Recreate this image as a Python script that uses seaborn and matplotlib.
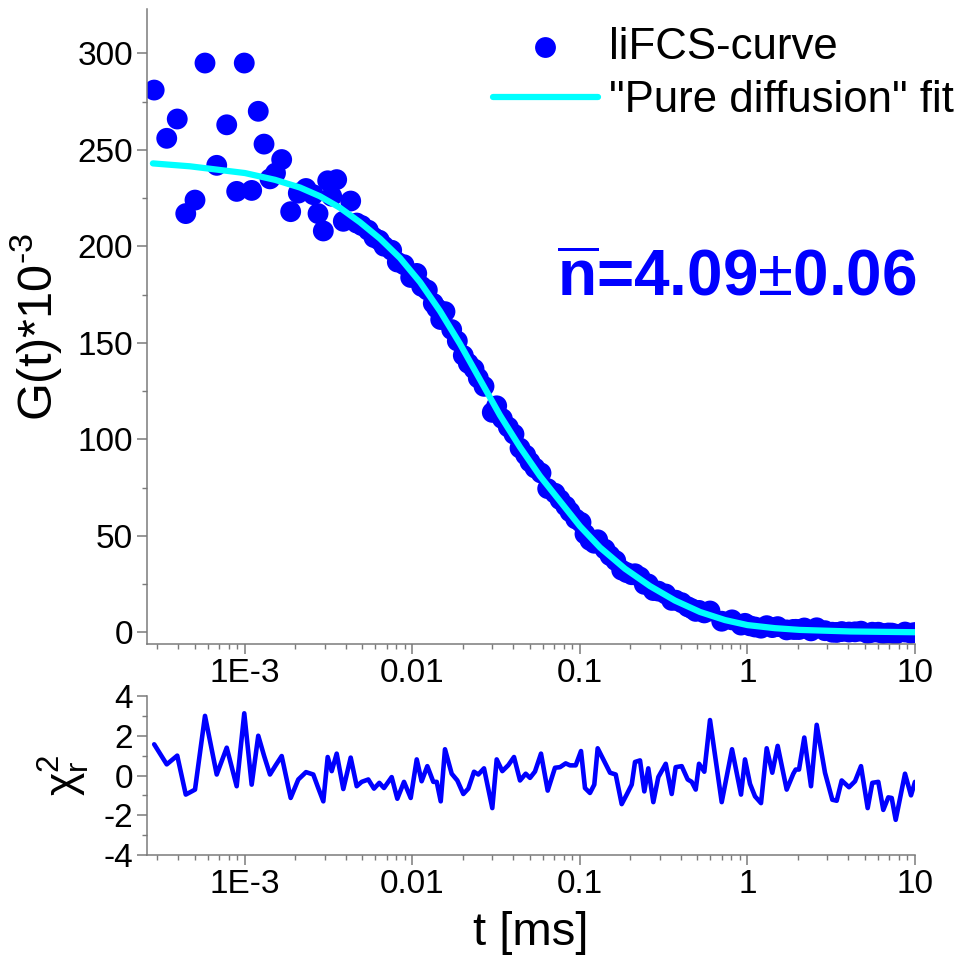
import matplotlib
matplotlib.use("Agg")
import matplotlib.pyplot as plt
import seaborn as sns
import pandas as pd
from matplotlib.ticker import FixedLocator, FixedFormatter, MultipleLocator, LogLocator, NullFormatter

# ---------------- data ----------------
t_ms = [0.000287, 0.000341, 0.000394, 0.000443, 0.000503, 0.000577, 0.000678, 0.000778, 0.000892, 0.000990,
        0.001096, 0.001200, 0.001299, 0.001410, 0.001521, 0.001656, 0.001874, 0.002081, 0.002313, 0.002557,
        0.002729, 0.002935, 0.003117, 0.003294, 0.003527, 0.003863, 0.004276, 0.004645, 0.004975, 0.005446,
        0.005890, 0.006337, 0.006758, 0.007511, 0.008118, 0.008898, 0.009757, 0.01060, 0.01134, 0.01226,
        0.01331, 0.01395, 0.01474, 0.01563, 0.01714, 0.01852, 0.02011, 0.02154, 0.02330, 0.02471,
        0.02673, 0.02995, 0.03182, 0.03437, 0.03733, 0.04036, 0.04384, 0.04741, 0.05030, 0.05386,
        0.05851, 0.06414, 0.07091, 0.07597, 0.08214, 0.08716, 0.09426, 0.1014, 0.1071, 0.1147,
        0.1217, 0.1275, 0.1410, 0.1511, 0.1634, 0.1774, 0.1900, 0.2036, 0.2130, 0.2282,
        0.2421, 0.2557, 0.2740, 0.2935, 0.3250, 0.3528, 0.3727, 0.4048, 0.4395, 0.4645,
        0.4907, 0.5135, 0.5523, 0.5972, 0.7015, 0.8082, 0.9147, 0.9661, 1.035, 1.109,
        1.204, 1.302, 1.406, 1.514, 1.714, 1.877, 1.940, 2.030, 2.183, 2.394,
        2.589, 2.902, 3.209, 3.408, 3.651, 4.036, 4.384, 4.760, 5.218, 5.559,
        6.039, 6.467, 6.929, 7.260, 7.669, 8.715, 9.465, 10.0]

g_data = [281, 256, 266, 217, 224, 295, 242, 263, 228.5, 295,
          229, 270, 253, 235, 238, 245, 218, 227.6, 230, 226.8,
          217, 208, 234, 226, 234.6, 213, 223.5, 212.1, 210.8, 208.4,
          204.6, 203.2, 200.1, 198.0, 191.9, 190.5, 183.9, 186.0, 179.3, 177.4,
          170.5, 168.0, 162.1, 166.2, 156.9, 151.0, 143.5, 139.4, 136.5, 131.8,
          127.5, 114.0, 117.4, 110.8, 106.4, 102.7, 95.5, 91.9, 88.3, 85.2,
          82.6, 74.5, 72.1, 68.8, 65.5, 62.5, 58.8, 57.0, 51.0, 47.7,
          46.2, 48.0, 43.1, 39.8, 37.2, 32.3, 31.0, 29.9, 30.4, 28.7,
          24.9, 25.1, 21.7, 21.4, 19.9, 16.6, 16.7, 15.4, 13.3, 12.3,
          10.9, 11.4, 10.1, 11.1, 5.8, 6.5, 3.8, 4.7, 3.4, 2.8,
          2.2, 3.5, 2.5, 3.0, 1.3, 1.55, 1.6, 1.5, 2.3, 0.8,
          2.4, 0.9, 0.1, 0.0, 0.45, 0.2, 0.3, 0.65, -0.5, 0.1,
          0.1, -0.6, -0.3, -0.35, -0.9, 0.2, -0.4, -0.05]

chi_r = [1.57, 0.56, 1.0, -0.96, -0.71, 3.0, 0.05, 1.4, -0.54, 3.13,
         -0.46, 2.0, 1.0, 0.05, 0.5, 0.98, -1.13, -0.2, 0.17, 0.05,
         -0.6, -1.3, 0.93, 0.22, 1.1, -0.68, 0.9, -0.54, -0.32, -0.2,
         -0.66, -0.37, -0.63, -0.08, -1.17, -0.32, -1.13, 0.81, -0.29, 0.47,
         -0.32, -0.32, -1.3, 1.32, 0.09, -0.25, -0.93, -0.66, 0.19, 0.05,
         0.36, -1.64, 0.81, 0.22, 0.52, 0.93, -0.25, 0.09, -0.12, 0.2,
         1.1, -0.76, 0.39, 0.42, 0.61, 0.51, 0.51, 1.23, -0.63, -0.88,
         -0.46, 1.37, 0.64, 0.14, 0.05, -1.44, -0.96, -0.46, 0.68, 0.76,
         -0.8, 0.36, -1.34, -0.08, 0.59, -0.93, 0.42, 0.47, -0.2, -0.32,
         -0.71, 0.59, 0.19, 2.79, -1.34, 1.32, -0.96, 0.81, -0.42, -1.05,
         -1.39, 1.37, 0.14, 1.49, -0.71, 0.09, 0.3, 0.3, 1.91, -0.54,
         2.55, 0.14, -1.22, -1.27, -0.25, -0.59, -0.29, 0.47, -1.64, -0.37,
         -0.32, -1.73, -1.1, -1.13, -2.23, 0.09, -1.0, -0.32]

fit_t = [0.000282, 0.000469, 0.001, 0.00151, 0.00213, 0.0028, 0.00369, 0.00486, 0.0064, 0.00842,
         0.01109, 0.0146, 0.01921, 0.02529, 0.0333, 0.04384, 0.0577, 0.07597, 0.1, 0.1317,
         0.1857, 0.2618, 0.3692, 0.5205, 0.7339, 1.0, 1.459, 2.058, 4.092, 10.0]
fit_g = [243, 241.5, 238, 234.5, 230.5, 226, 220, 212.5, 204, 194,
         181.5, 166.5, 149.5, 131, 112.5, 96, 81, 68, 55, 44,
         33, 24, 16.5, 10.6, 6.4, 3.8, 2.2, 1.3, 0.5, 0.1]

xtick_values = [1e-3, 0.01, 0.1, 1, 10]
xtick_labels = ["1E-3", "0.01", "0.1", "1", "10"]
legend_labels = ["liFCS-curve", '"Pure diffusion" fit']
annotation = r"$\overline{\mathbf{n}}$=4.09$\pm$0.06"

# ---------------- style ----------------
sns.set_theme(style="ticks")
plt.rcParams["font.family"] = ["Liberation Sans", "DejaVu Sans"]
plt.rcParams["mathtext.fontset"] = "custom"
plt.rcParams["mathtext.rm"] = "Liberation Sans"
plt.rcParams["mathtext.it"] = "Liberation Sans:italic"
plt.rcParams["mathtext.bf"] = "Liberation Sans:bold"
plt.rcParams["axes.unicode_minus"] = False
plt.rcParams["text.color"] = "black"
plt.rcParams["axes.labelcolor"] = "black"

BLUE = "#0000ff"
CYAN = "#00ffff"
GREY = "#7a7a7a"
W, H = 955, 956

fig = plt.figure(figsize=(W / 100, H / 100), dpi=100)
ax = fig.add_axes([147 / W, 1 - 644 / H, 768 / W, 635 / H])
axr = fig.add_axes([147 / W, 1 - 855 / H, 768 / W, 159 / H])

df = pd.DataFrame({"t": t_ms, "G": g_data, "chi": chi_r})
dfit = pd.DataFrame({"t": fit_t, "G": fit_g})

for a in (ax, axr):
    a.set_xscale("log")

sns.scatterplot(data=df, x="t", y="G", ax=ax, color=BLUE, s=225, edgecolor="none",
                linewidth=0, label=legend_labels[0], zorder=2)
sns.lineplot(data=dfit, x="t", y="G", ax=ax, color=CYAN, lw=4.5, estimator=None, sort=False,
             label=legend_labels[1], zorder=3)
sns.lineplot(data=df, x="t", y="chi", ax=axr, color=BLUE, lw=3.3, estimator=None, sort=False,
             legend=False)
for ln in axr.get_lines():
    ln.set_solid_joinstyle("round")

# axes limits / ticks
for a in (ax, axr):
    a.set_xlim(2.6e-4, 10)
    a.xaxis.set_major_locator(FixedLocator(xtick_values))
    a.xaxis.set_major_formatter(FixedFormatter(xtick_labels))
    a.xaxis.set_minor_locator(LogLocator(base=10, subs=range(2, 10), numticks=50))
    a.xaxis.set_minor_formatter(NullFormatter())
    sns.despine(ax=a)
    for s in ("left", "bottom"):
        a.spines[s].set_color(GREY)
        a.spines[s].set_linewidth(1.1)
    a.tick_params(which="major", direction="out", length=7, width=1.1, color=GREY,
                  labelsize=24, labelcolor="black", pad=3)
    a.tick_params(which="minor", direction="out", length=3.5, width=1.0, color=GREY)
    a.set_xlabel("")
    a.set_ylabel("")

ax.set_ylim(-6, 323)
ax.yaxis.set_major_locator(MultipleLocator(50))
ax.yaxis.set_minor_locator(MultipleLocator(25))
axr.set_ylim(-4, 4)
axr.yaxis.set_major_locator(MultipleLocator(2))
axr.yaxis.set_minor_locator(MultipleLocator(1))

ax.set_ylabel("G(t)*10$^{\\text{-3}}$", fontsize=35)
ax.yaxis.set_label_coords(-0.108, 0.50)
axr.set_ylabel("\u03c7$_\\mathrm{r}^\\mathrm{2}$", fontsize=32)
axr.yaxis.set_label_coords(-0.072, 0.50)
axr.set_xlabel("t [ms]", fontsize=34, labelpad=8)

# legend
ax.legend(loc="upper left", bbox_to_anchor=(493 / W, 1 - 27 / H), bbox_transform=fig.transFigure,
          frameon=False, fontsize=31.5, handlelength=2.4, handletextpad=0.25, borderpad=0,
          borderaxespad=0, labelspacing=0.27)

# annotation
fig.text(557 / W, 1 - 296 / H, annotation, color=BLUE, fontsize=46, fontweight="bold",
         ha="left", va="baseline")

fig.savefig("out.png", dpi=100)
